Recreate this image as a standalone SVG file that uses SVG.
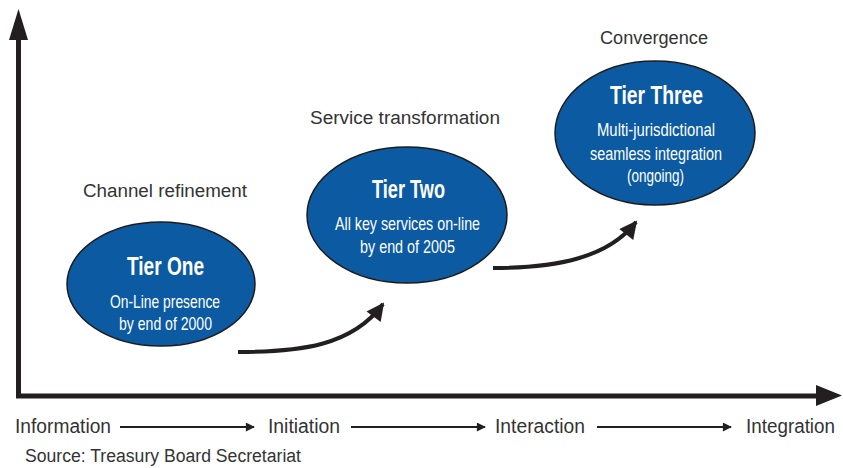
<svg xmlns="http://www.w3.org/2000/svg" width="843" height="468" viewBox="0 0 843 468">
  <defs>
    <style>
      .axis { stroke: #231f20; stroke-width: 5; fill: none; }
      .flow { stroke: #231f20; stroke-width: 4; fill: none; stroke-linecap: butt; }
      .step { stroke: #231f20; stroke-width: 2; fill: none; }
      .tier { fill: #0b5aa2; stroke: #1c1c1c; stroke-width: 1.5; }
      .title { font-family: "Liberation Sans Narrow", "Liberation Sans", Arial, sans-serif; font-weight: bold; font-size: 26px; fill: #ffffff; text-anchor: middle; }
      .desc { font-family: "Liberation Sans Narrow", "Liberation Sans", Arial, sans-serif; font-size: 18.5px; fill: #ffffff; text-anchor: middle; }
      .phase { font-family: "Liberation Sans", Arial, sans-serif; font-size: 18px; fill: #333333; }
      .stage { font-family: "Liberation Sans Narrow", "Liberation Sans", Arial, sans-serif; font-size: 20px; fill: #333333; }
      .src { font-family: "Liberation Sans Narrow", "Liberation Sans", Arial, sans-serif; font-size: 18px; fill: #333333; }
    </style>
    <marker id="bigHead" viewBox="0 0 10 10" refX="9" refY="5" markerWidth="5" markerHeight="4.4" orient="auto" markerUnits="strokeWidth">
      <path d="M0,0 L10,5 L0,10 Z" fill="#231f20"/>
    </marker>
    <marker id="smallHead" viewBox="0 0 10 10" refX="9" refY="5" markerWidth="8" markerHeight="4.5" orient="auto" markerUnits="strokeWidth">
      <path d="M0,0 L10,5 L0,10 Z" fill="#231f20"/>
    </marker>
  </defs>

  <rect width="843" height="468" fill="#ffffff"/>

  <!-- axes -->
  <g id="axes">
    <path class="axis" d="M18.5,38 L18.5,396 L818,396"/>
    <polygon points="18.5,9 9,40 28,40" fill="#231f20"/>
    <polygon points="842,395.5 816,385 816,406" fill="#231f20"/>
  </g>

  <!-- connectors -->
  <g id="connectors">
    <path class="flow" d="M238,352 C300,352 352,346 383,304" marker-end="url(#bigHead)"/>
    <path class="flow" d="M493,268 C556,268 608,258 636,222" marker-end="url(#bigHead)"/>
    <path class="step" d="M120,427 L254,427" marker-end="url(#smallHead)"/>
    <path class="step" d="M351,427 L485,427" marker-end="url(#smallHead)"/>
    <path class="step" d="M597,427 L731,427" marker-end="url(#smallHead)"/>
  </g>

  <!-- tier nodes -->
  <g id="tier-one">
    <ellipse class="tier" cx="161" cy="284" rx="94" ry="62"/>
    <text class="title" x="165.5" y="275" textLength="77" lengthAdjust="spacingAndGlyphs">Tier One</text>
    <text class="desc" x="165" y="308" textLength="110" lengthAdjust="spacingAndGlyphs">On-Line presence</text>
    <text class="desc" x="165.5" y="330" textLength="93" lengthAdjust="spacingAndGlyphs">by end of 2000</text>
  </g>

  <g id="tier-two">
    <ellipse class="tier" cx="407" cy="215" rx="100" ry="68"/>
    <text class="title" x="408.5" y="198" textLength="73" lengthAdjust="spacingAndGlyphs">Tier Two</text>
    <text class="desc" x="407.5" y="230" textLength="145" lengthAdjust="spacingAndGlyphs">All key services on-line</text>
    <text class="desc" x="407.5" y="253" textLength="95" lengthAdjust="spacingAndGlyphs">by end of 2005</text>
  </g>

  <g id="tier-three">
    <ellipse class="tier" cx="655" cy="133" rx="100" ry="72"/>
    <text class="title" x="656.5" y="104" textLength="93" lengthAdjust="spacingAndGlyphs">Tier Three</text>
    <text class="desc" x="656" y="136" textLength="118" lengthAdjust="spacingAndGlyphs">Multi-jurisdictional</text>
    <text class="desc" x="656" y="160" textLength="132" lengthAdjust="spacingAndGlyphs">seamless integration</text>
    <text class="desc" x="655.5" y="182" textLength="57" lengthAdjust="spacingAndGlyphs">(ongoing)</text>
  </g>

  <!-- phase labels -->
  <g id="phase-labels">
    <text class="phase" x="83" y="197" textLength="164" lengthAdjust="spacingAndGlyphs">Channel refinement</text>
    <text class="phase" x="310" y="124" textLength="190" lengthAdjust="spacingAndGlyphs">Service transformation</text>
    <text class="phase" x="600" y="44" textLength="108" lengthAdjust="spacingAndGlyphs">Convergence</text>
  </g>

  <!-- stage labels along the axis -->
  <g id="stage-labels">
    <text class="stage" x="15" y="433" textLength="96" lengthAdjust="spacingAndGlyphs">Information</text>
    <text class="stage" x="268" y="433" textLength="72" lengthAdjust="spacingAndGlyphs">Initiation</text>
    <text class="stage" x="495" y="433" textLength="90" lengthAdjust="spacingAndGlyphs">Interaction</text>
    <text class="stage" x="746" y="433" textLength="89" lengthAdjust="spacingAndGlyphs">Integration</text>
    <text class="src" x="25" y="462" textLength="276" lengthAdjust="spacingAndGlyphs">Source: Treasury Board Secretariat</text>
  </g>
</svg>
